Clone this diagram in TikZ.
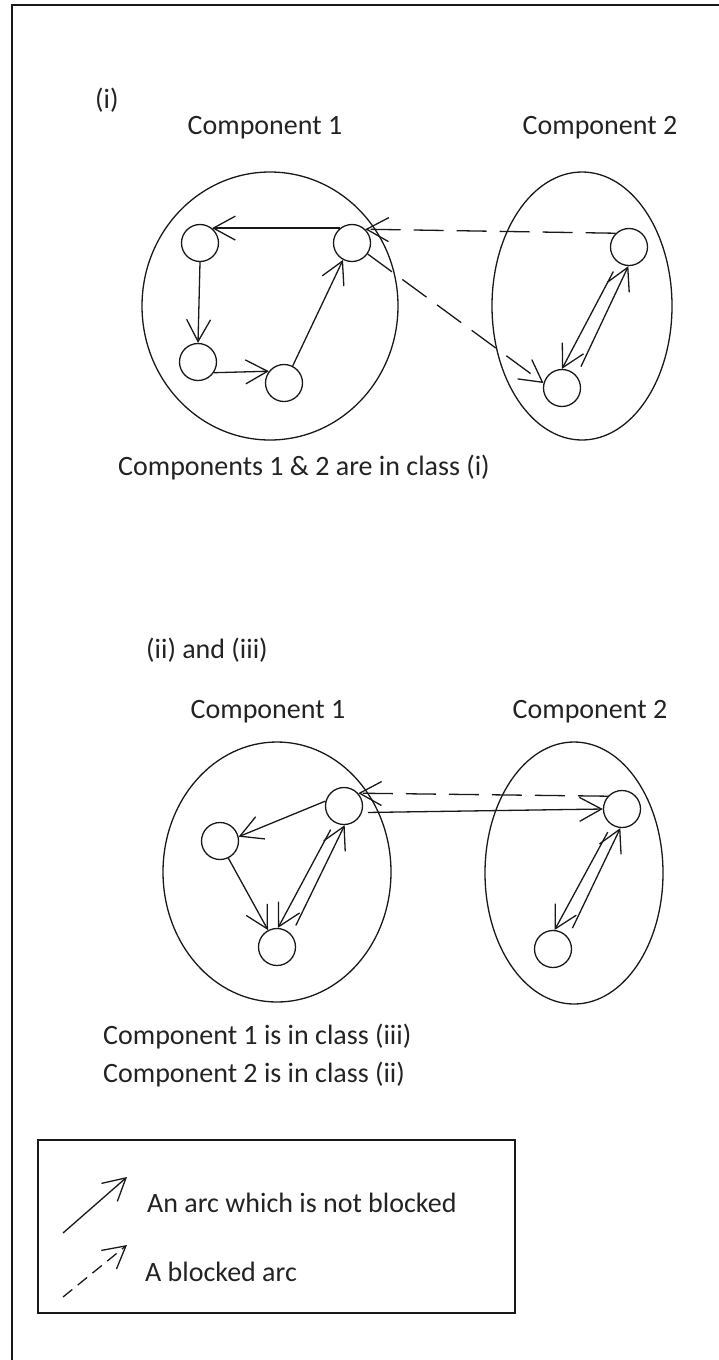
\documentclass[tikz,border=0pt]{standalone}
\usepackage{fontspec}
\setmainfont{Carlito}
\usetikzlibrary{arrows.meta,shapes.geometric}
\definecolor{ln}{RGB}{25,25,25}
\definecolor{txt}{RGB}{35,35,35}
\begin{document}
\begin{tikzpicture}[x=1pt,y=-1pt,
 nd/.style={draw=ln,circle,minimum size=37pt,inner sep=0pt,line width=1.3pt},
 grp/.style={draw=ln,ellipse,inner sep=0pt,line width=1.3pt},
 lbl/.style={font=\fontsize{28}{34}\selectfont,inner sep=0pt,text=txt},
 arr/.style={draw=ln,line width=1.3pt,-{Straight Barb[length=22pt,width=24pt]}},
 blk/.style={arr,dash pattern=on 30pt off 13pt},
 blkleg/.style={arr,dash pattern=on 12pt off 7pt},
]
\useasboundingbox (0,0) rectangle (719,1360);
% frame
\draw[ln,line width=1.8pt] (12,1362) -- (12,5) -- (721,5);

% ---------- (i) ----------
\node[lbl,anchor=west] (ti) at (95,100) {(i)};
\node[lbl] (tc1) at (265,128) {Component 1};
\node[lbl] (tc2) at (600,128) {Component 2};

\node[grp,minimum width=256pt,minimum height=268pt] (K1) at (270,306) {};
\node[grp,minimum width=180pt,minimum height=268pt] (K2) at (582,306) {};

\node[nd] (A) at (200,243) {};
\node[nd] (B) at (352,243) {};
\node[nd] (C) at (198,362) {};
\node[nd] (D) at (284,383) {};
\node[nd] (P) at (629,247) {};
\node[nd] (Q) at (562,388) {};

\draw[arr] (B.129) -- (A.51);
\draw[arr] (A.south) -- (C.north);
\draw[arr] (C.-34) -- (D.142);
\draw[arr] (D.63) -- (B.242);
\draw[blk] (P.134) -- (B.46);
\draw[blk] (B.-35) -- (Q.165);
\draw[arr,shorten <=10pt] (P.235) -- (Q.90);
\draw[arr,shorten <=10pt] (Q.40) -- (P.268);

\node[lbl,anchor=west] (t1) at (118,468) {Components 1 \& 2 are in class (i)};

% ---------- (ii) and (iii) ----------
\node[lbl,anchor=west] (tii) at (146,650) {(ii) and (iii)};
\node[lbl] (tc3) at (268,712) {Component 1};
\node[lbl] (tc4) at (590,712) {Component 2};

\node[grp,minimum width=228pt,minimum height=260pt] (K3) at (277,872) {};
\node[grp,minimum width=178pt,minimum height=262pt] (K4) at (574,873) {};

\node[nd] (E) at (344,806) {};
\node[nd] (F) at (220,841) {};
\node[nd] (G) at (277,947) {};
\node[nd] (H) at (622,809) {};
\node[nd] (I) at (553,949) {};

\draw[arr] (E.165) -- (F.13);
\draw[arr] (F.-64) -- (G.118);
\draw[arr,shorten <=8pt] (E.240) -- (G.87);
\draw[arr,shorten <=10pt] (G.41) -- (E.272);
\draw[blk] (H.138) -- (E.42);
\draw[arr,shorten <=6pt] (E.-20) -- (H.180);
\draw[arr,shorten <=8pt] (H.237) -- (I.85);
\draw[arr,shorten <=10pt] (I.38) -- (H.265);

\node[lbl,anchor=west] (t2) at (103,1037) {Component 1 is in class (iii)};
\node[lbl,anchor=west] (t3) at (103,1075) {Component 2 is in class (ii)};

% ---------- legend ----------
\node[draw=ln,line width=1.3pt,minimum width=477pt,minimum height=173pt,inner sep=0pt] (L) at (276.5,1226.5) {};
\coordinate (s1) at (63,1233);
\coordinate (e1) at (127,1177);
\coordinate (s2) at (63,1297);
\coordinate (e2) at (127,1245);
\draw[arr] (s1) -- (e1);
\draw[blkleg] (s2) -- (e2);
\node[lbl,anchor=west] (l1) at (147,1203) {An arc which is not blocked};
\node[lbl,anchor=west] (l2) at (145,1272) {A blocked arc};
\end{tikzpicture}
\end{document}
